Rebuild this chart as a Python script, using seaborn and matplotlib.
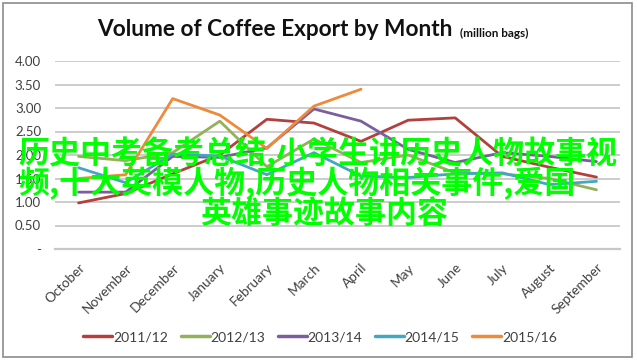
import numpy as np
import pandas as pd
import matplotlib
matplotlib.use("Agg")
import matplotlib.pyplot as plt
import matplotlib.patches as mpatches
import seaborn as sns

months = ["October", "November", "December", "January", "February", "March",
          "April", "May", "June", "July", "August", "September"]
seasons = ["2011/12", "2012/13", "2013/14", "2014/15", "2015/16"]
s2011 = [0.98, 1.18, 1.60, 2.00, 2.76, 2.68, 2.29, 2.74, 2.79, 1.97, 1.74, 1.53]
s2012 = [1.97, 1.88, 2.05, 2.72, 1.75, 2.34, 1.84, 2.00, 1.62, 1.60, 1.50, 1.26]
s2013 = [1.21, 1.21, 1.97, 1.95, 2.15, 2.98, 2.72, 2.12, 1.84, 2.05, 1.97, 1.86]
s2014 = [1.73, 1.41, 2.02, 1.98, 1.58, 2.05, 1.55, 1.52, 1.60, 1.62, 1.37, 1.44]
s2015 = [1.50, 1.58, 3.20, 2.85, 2.14, 3.04, 3.40]
yticks = [0, 0.5, 1.0, 1.5, 2.0, 2.5, 3.0, 3.5, 4.0]
colors = ["#B2403D", "#93B05A", "#7A5F9E", "#46A6C2", "#EE8A3A"]

rows = []
for name, vals in zip(seasons, [s2011, s2012, s2013, s2014, s2015]):
    for m, v in zip(months, vals):
        rows.append({"Month": m, "Season": name, "Value": v})
df = pd.DataFrame(rows)

sns.set_theme(style="white")
plt.rcParams['font.family'] = ['Lato', 'DejaVu Sans']

fig = plt.figure(figsize=(6.37, 3.6), dpi=100)
ax = fig.add_axes([55/637, 1-249/360, 565/637, 188/360])

sns.lineplot(data=df, x="Month", y="Value", hue="Season", hue_order=seasons,
             palette=dict(zip(seasons, colors)), sort=False, linewidth=2,
             ax=ax, legend=False)

ax.set_xlim(-0.5, 11.5)
ax.set_ylim(0, 4.0)
ax.set_yticks(yticks)
ax.set_yticklabels(["-" if v == 0 else f"{v:.2f}" for v in yticks], fontsize=9.5, color="#404040")
ax.set_xticks(range(len(months)))
ax.set_xticklabels(months, rotation=45, ha="right", rotation_mode="anchor",
                   fontsize=9.8, color="#404040")
ax.tick_params(axis="y", length=0, pad=10)
ax.tick_params(axis="x", length=0, pad=9)
ax.set_xlabel("")
ax.set_ylabel("")
ax.grid(axis="y", color="#BFBFBF", linewidth=1.1)
ax.set_axisbelow(True)
for s in ["top", "right", "left"]:
    ax.spines[s].set_visible(False)
ax.spines["bottom"].set_color("#C8C8C8")
ax.spines["bottom"].set_linewidth(1.6)

# Title
fig.text(97/637, 1-30/360, "Volume of Coffee Export by Month", fontsize=16.3,
         fontweight="bold", ha="left", va="center", color="#111111")
fig.text(460/637, 1-33/360, "(million bags)", fontsize=8.5, fontweight="bold",
         ha="left", va="center", color="#111111")

# Legend
handles = [plt.Line2D([], [], color=c, linewidth=2.5) for c in colors]
fig.legend(handles, seasons, loc="center", bbox_to_anchor=(320/637, 1-337/360),
           ncol=5, frameon=False, fontsize=10, handlelength=2.1,
           handletextpad=0.05, columnspacing=0.9, labelcolor="#404040")

# Outer frame
fig.patches.append(mpatches.Rectangle((3/637, 3/360), 629/637, 354/360,
                   transform=fig.transFigure, fill=False, edgecolor="#8C8C8C",
                   linewidth=1.2))

# Overlay text
cjk = ['Noto Sans CJK SC', 'DejaVu Sans']
fig.text(18/637, 1-153/360, "历史中考备考总结,小学生讲历史人物故事视", fontsize=22.3,
         fontweight="bold", color="#00FF00", family=cjk, ha="left", va="center")
fig.text(18/637, 1-184/360, "频,十大英模人物,历史人物相关事件,爱国", fontsize=22.3,
         fontweight="bold", color="#00FF00", family=cjk, ha="left", va="center")
fig.text(200/637, 1-214/360, "英雄事迹故事内容", fontsize=22.3,
         fontweight="bold", color="#00FF00", family=cjk, ha="left", va="center")

fig.savefig("out.png", dpi=100)
